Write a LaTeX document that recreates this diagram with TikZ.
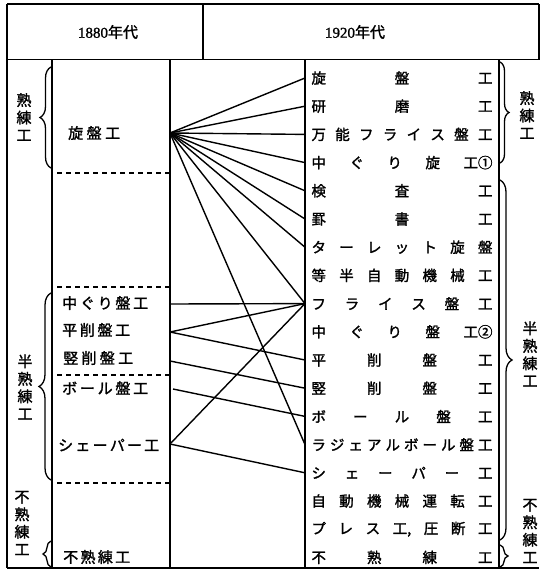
\documentclass[tikz,border=0pt]{standalone}
\usepackage{fontspec}
\setmainfont{Liberation Serif}
\newfontfamily\cjk[FakeBold=1.6]{Noto Sans CJK JP}
\newfontfamily\hdrfont[FakeBold=1.2]{Liberation Serif}
\usetikzlibrary{decorations.pathreplacing}
\newcommand\spr[2]{\hbox to #1{#2}}
\begin{document}
\begin{tikzpicture}[x=1pt,y=-1pt,
  frm/.style={line width=1.8pt},
  conn/.style={line width=1.4pt},
  sepline/.style={line width=1.3pt, dash pattern=on 5pt off 4pt},
  brc/.style={decorate, decoration={brace, amplitude=#1}, line width=1.3pt},
  rowtxt/.style={font=\cjk\fontsize{14.5}{15}\selectfont, inner sep=0pt},
  lefttxt/.style={font=\cjk\fontsize{15}{15}\selectfont, inner sep=0pt, anchor=west},
  vlabel/.style={font=\cjk\fontsize{15}{17.5}\selectfont, inner sep=0pt, align=center},
  hdr/.style={font=\hdrfont\fontsize{15}{15}\selectfont, inner sep=0pt}]
\useasboundingbox (0,0) rectangle (541,571);
% frame
\draw[frm] (7,4) -- (539,4);
\draw[frm] (7,59.5) -- (539,59.5);
\draw[frm] (7,568) -- (539,568);
\draw[frm] (7,4) -- (7,568);
\draw[frm] (539,4) -- (539,59.5);
\draw[frm] (203,4) -- (203,59.5);
\draw[frm] (52,59.5) -- (52,568);
\draw[frm] (170,59.5) -- (170,568);
\draw[frm] (305,59.5) -- (305,568);
\draw[frm] (499,59.5) -- (499,568);
% header
\node[hdr] (h1) at (108,32) {1880{\cjk 年代}};
\node[hdr] (h2) at (355,32) {1920{\cjk 年代}};
% right row anchors
\foreach \i in {0,...,17} \coordinate (R\i) at (305,78+28.2*\i);
% right rows
\node[rowtxt] (t0) at (402,78) {\spr{181pt}{旋\hfill 盤\hfill 工}};
\node[rowtxt] (t1) at (402,106.2) {\spr{181pt}{研\hfill 磨\hfill 工}};
\node[rowtxt] (t2) at (402,134.4) {\spr{181pt}{万\hfill 能\hfill フ\hfill ラ\hfill イ\hfill ス\hfill 盤\hfill 工}};
\node[rowtxt] (t3) at (402,162.6) {\spr{181pt}{中\hfill ぐ\hfill り\hfill 旋\hfill 工①}};
\node[rowtxt] (t4) at (402,190.8) {\spr{181pt}{検\hfill 査\hfill 工}};
\node[rowtxt] (t5) at (402,219) {\spr{181pt}{罫\hfill 書\hfill 工}};
\node[rowtxt] (t6) at (402,247.2) {\spr{181pt}{タ\hfill ー\hfill レ\hfill ッ\hfill ト\hfill 旋\hfill 盤}};
\node[rowtxt] (t7) at (402,275.4) {\spr{181pt}{等\hfill 半\hfill 自\hfill 動\hfill 機\hfill 械\hfill 工}};
\node[rowtxt] (t8) at (402,303.6) {\spr{181pt}{フ\hfill ラ\hfill イ\hfill ス\hfill 盤\hfill 工}};
\node[rowtxt] (t9) at (402,331.8) {\spr{181pt}{中\hfill ぐ\hfill り\hfill 盤\hfill 工②}};
\node[rowtxt] (t10) at (402,360) {\spr{181pt}{平\hfill 削\hfill 盤\hfill 工}};
\node[rowtxt] (t11) at (402,388.2) {\spr{181pt}{竪\hfill 削\hfill 盤\hfill 工}};
\node[rowtxt] (t12) at (402,416.4) {\spr{181pt}{ボ\hfill ー\hfill ル\hfill 盤\hfill 工}};
\node[rowtxt] (t13) at (402,444.6) {\spr{181pt}{ラ\hfill ジ\hfill ェ\hfill ア\hfill ル\hfill ボ\hfill ー\hfill ル\hfill 盤\hfill 工}};
\node[rowtxt] (t14) at (402,472.8) {\spr{181pt}{シ\hfill ェ\hfill ー\hfill パ\hfill ー\hfill 工}};
\node[rowtxt] (t15) at (402,501) {\spr{181pt}{自\hfill 動\hfill 機\hfill 械\hfill 運\hfill 転\hfill 工}};
\node[rowtxt] (t16) at (402,529.2) {\spr{181pt}{プ\hfill レ\hfill ス\hfill 工,\hfill 圧\hfill 断\hfill 工}};
\node[rowtxt] (t17) at (402,557.4) {\spr{181pt}{不\hfill 熟\hfill 練\hfill 工}};
% left texts
\node[lefttxt] (l1) at (68,133) {\spr{52pt}{旋\hfill 盤\hfill 工}};
\node[lefttxt] (l2) at (62,303) {\spr{86pt}{中\hfill ぐ\hfill り\hfill 盤\hfill 工}};
\node[lefttxt] (l3) at (62,330) {\spr{68pt}{平\hfill 削\hfill 盤\hfill 工}};
\node[lefttxt] (l4) at (63,358) {\spr{70pt}{竪\hfill 削\hfill 盤\hfill 工}};
\node[lefttxt] (l5) at (62,388) {\spr{86pt}{ボ\hfill ー\hfill ル\hfill 盤\hfill 工}};
\node[lefttxt] (l6) at (58,445) {\spr{101pt}{シ\hfill ェ\hfill ー\hfill パ\hfill ー\hfill 工}};
\node[lefttxt] (l7) at (63,557) {\spr{67pt}{不\hfill 熟\hfill 練\hfill 工}};
% dashed separators
\draw[sepline] (57,173) -- (169,173);
\draw[sepline] (57,287) -- (169,287);
\draw[sepline] (57,375) -- (169,375);
\draw[sepline] (57,483) -- (169,483);
% left anchors
\coordinate (a) at (170,133);
\coordinate (b) at (170,304);
\coordinate (c) at (170,332);
\coordinate (d) at (170,361);
\coordinate (e) at (173,389);
\coordinate (f) at (170,444);
% connectors
\foreach \i in {0,1,2,3,4,5,6,8,13} \draw[conn] (a) -- (R\i);
\draw[conn] (b) -- (R8);
\draw[conn] (c) -- (R8);
\draw[conn] (c) -- (R10);
\draw[conn] (d) -- (R11);
\draw[conn] (e) -- (R12);
\draw[conn] (f) -- (R8);
\draw[conn] (f) -- (R14);
% braces
\draw[brc=11] (51,168) -- (51,67);
\draw[brc=12] (51,480) -- (51,293);
\draw[brc=8] (51,567) -- (51,541);
\draw[brc=9] (500,62) -- (500,163);
\draw[brc=12] (500,180) -- (500,540);
\draw[brc=8] (500,545) -- (500,567);
% vertical labels
\node[vlabel] (lk) at (24,117) {熟\\練\\工};
\node[vlabel] (lh) at (25,387) {半\\熟\\練\\工};
\node[vlabel] (lf) at (22,523) {不\\熟\\練\\工};
\node[vlabel] (rk) at (527,115) {熟\\練\\工};
\node[vlabel] (rh) at (530,354) {半\\熟\\練\\工};
\node[vlabel] (rf) at (530,531) {不\\熟\\練\\工};
\end{tikzpicture}
\end{document}
